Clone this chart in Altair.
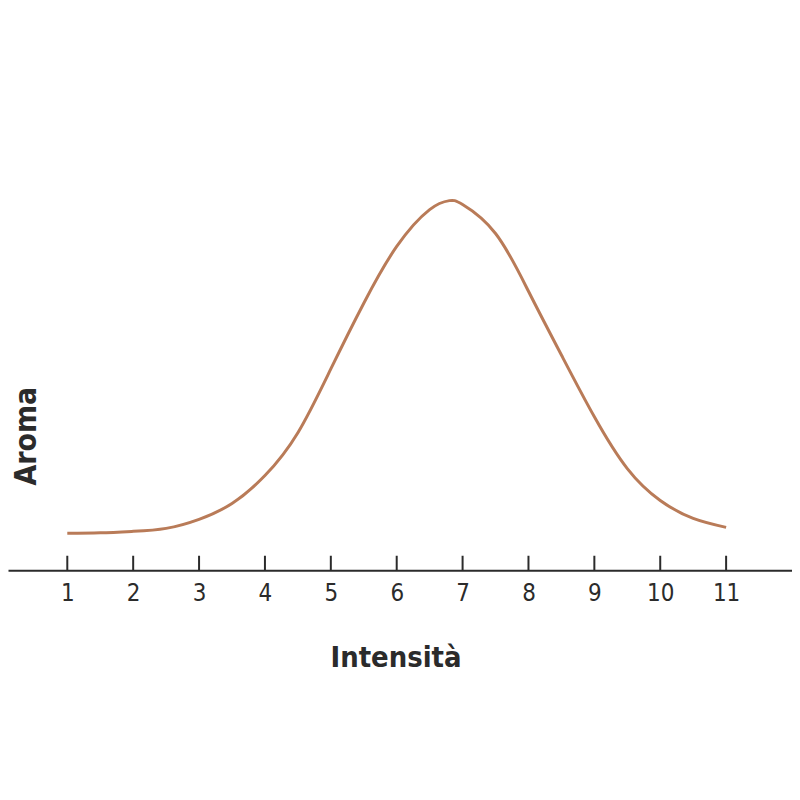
import altair as alt
import pandas as pd

# Curve values
intensita = [1, 1.5, 2, 2.5, 3, 3.5, 4, 4.5, 5, 5.5, 6, 6.5, 6.8, 7, 7.5, 8, 8.5, 9, 9.5, 10, 10.5, 11]
aroma = [0.37, 0.375, 0.39, 0.42, 0.51, 0.67, 0.95, 1.38, 2.02, 2.68, 3.25, 3.62, 3.71, 3.67,
         3.38, 2.80, 2.16, 1.54, 1.02, 0.70, 0.52, 0.43]
tick_values = [1, 2, 3, 4, 5, 6, 7, 8, 9, 10, 11]

curve_df = pd.DataFrame({"x": intensita, "y": aroma})
ticks_df = pd.DataFrame({"x": tick_values})

FONT = "DejaVu Sans Condensed, sans-serif"
INK = "#2b2b2b"

xscale = alt.Scale(domain=[0.1, 12], nice=False, zero=False)
yscale = alt.Scale(domain=[0, 4], nice=False, zero=True)

curve = alt.Chart(curve_df).mark_line(
    color="#b97b58", strokeWidth=3, interpolate="natural"
).encode(
    x=alt.X("x:Q", scale=xscale, axis=alt.Axis(
        values=tick_values, format="d", ticks=False, tickSize=0, grid=False,
        domainColor=INK, domainWidth=2,
        labelFont=FONT, labelFontSize=24, labelColor=INK, labelPadding=11,
        title="Intensità", titleFont=FONT, titleFontSize=29, titleFontWeight="bold",
        titleColor=INK, titleX=389, titleY=97, titleAlign="center",
        titleBaseline="alphabetic",
    )),
    y=alt.Y("y:Q", scale=yscale, axis=alt.Axis(
        domain=False, ticks=False, labels=False, grid=False,
        title="Aroma", titleFont=FONT, titleFontSize=30, titleFontWeight="bold",
        titleColor=INK, titleAngle=270, titleX=28, titleY=265, titleAlign="center",
        titleBaseline="alphabetic",
    )),
)

tick_marks = alt.Chart(ticks_df).mark_rule(color=INK, strokeWidth=2).encode(
    x=alt.X("x:Q", scale=xscale),
    y=alt.datum(0),
    y2=alt.datum(0.145),
)

chart = alt.layer(curve, tick_marks).properties(
    width=787, height=400,
    background="white",
    autosize=alt.AutoSizeParams(type="none"),
    padding={"left": 0, "top": 163, "right": 0, "bottom": 140},
).configure_view(strokeWidth=0, stroke=None)

chart.save("out.html", embed_options={"renderer": "svg", "actions": False})
